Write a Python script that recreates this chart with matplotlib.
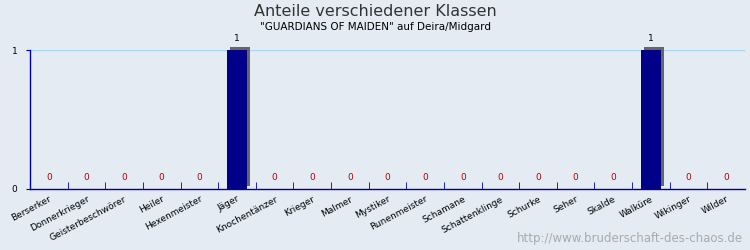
import numpy as np
import matplotlib
matplotlib.use('Agg')
import matplotlib.pyplot as plt
import matplotlib.patheffects as pe

klassen = ['Berserker', 'Donnerkrieger', 'Geisterbeschwörer', 'Heiler', 'Hexenmeister',
           'Jäger', 'Knochentänzer', 'Krieger', 'Malmer', 'Mystiker', 'Runenmeister',
           'Schamane', 'Schattenklinge', 'Schurke', 'Seher', 'Skalde', 'Walküre',
           'Wikinger', 'Wilder']
anzahl = [0, 0, 0, 0, 0, 1, 0, 0, 0, 0, 0, 0, 0, 0, 0, 0, 1, 0, 0]

bg = '#e5ebf2'
fig = plt.figure(figsize=(7.5, 2.5), dpi=100, facecolor=bg)
ax = fig.add_axes([30 / 750, 61 / 250, 715 / 750, 139 / 250], facecolor=bg)

x = np.arange(len(klassen))
bars = ax.bar(x, anzahl, width=0.55, color='#000088', zorder=3, clip_on=False)
for b in bars:
    b.set_path_effects([pe.SimplePatchShadow(offset=(2.2, 2.2), shadow_rgbFace='#666666', alpha=1),
                        pe.Normal()])

for xi, v in zip(x, anzahl):
    if v > 0:
        ax.annotate(str(v), (xi, v), xytext=(0, 5), textcoords='offset points',
                    ha='center', va='bottom', fontsize=6.5, color='black')
    else:
        ax.annotate(str(v), (xi, v), xytext=(0, 5), textcoords='offset points',
                    ha='center', va='bottom', fontsize=6.5, color='#b00000')

ax.set_xlim(-0.5, len(klassen) - 0.5)
ax.set_ylim(0, 1)
ax.set_yticks([0, 1])
ax.set_yticklabels(['0', '1'], fontsize=6.5)
ax.axhline(1, color='#a8d8ea', lw=1, zorder=1)

ax.set_xticks(x)
ax.set_xticklabels(klassen, rotation=28, ha='right', rotation_mode='anchor', fontsize=6.5)
ax.tick_params(axis='x', which='major', length=0, pad=4)
ax.set_xticks(np.arange(1, len(klassen)) - 0.5, minor=True)
ax.tick_params(axis='x', which='minor', direction='in', length=5, color='#0000aa')
ax.tick_params(axis='y', length=3, color='#0000aa', pad=6)

for s in ['top', 'right']:
    ax.spines[s].set_visible(False)
for s in ['left', 'bottom']:
    ax.spines[s].set_color('#0000aa')
    ax.spines[s].set_linewidth(1)

fig.text(0.5, 0.955, 'Anteile verschiedener Klassen', ha='center', va='center',
         fontsize=11.5, color='#333333')
fig.text(0.5, 0.893, '"GUARDIANS OF MAIDEN" auf Deira/Midgard', ha='center', va='center',
         fontsize=7.5, color='black')
fig.text(0.99, 0.045, 'http://www.bruderschaft-des-chaos.de', ha='right', va='center',
         fontsize=8.5, color='#aaaaaa')

fig.savefig('out.png', dpi=100, facecolor=bg)
